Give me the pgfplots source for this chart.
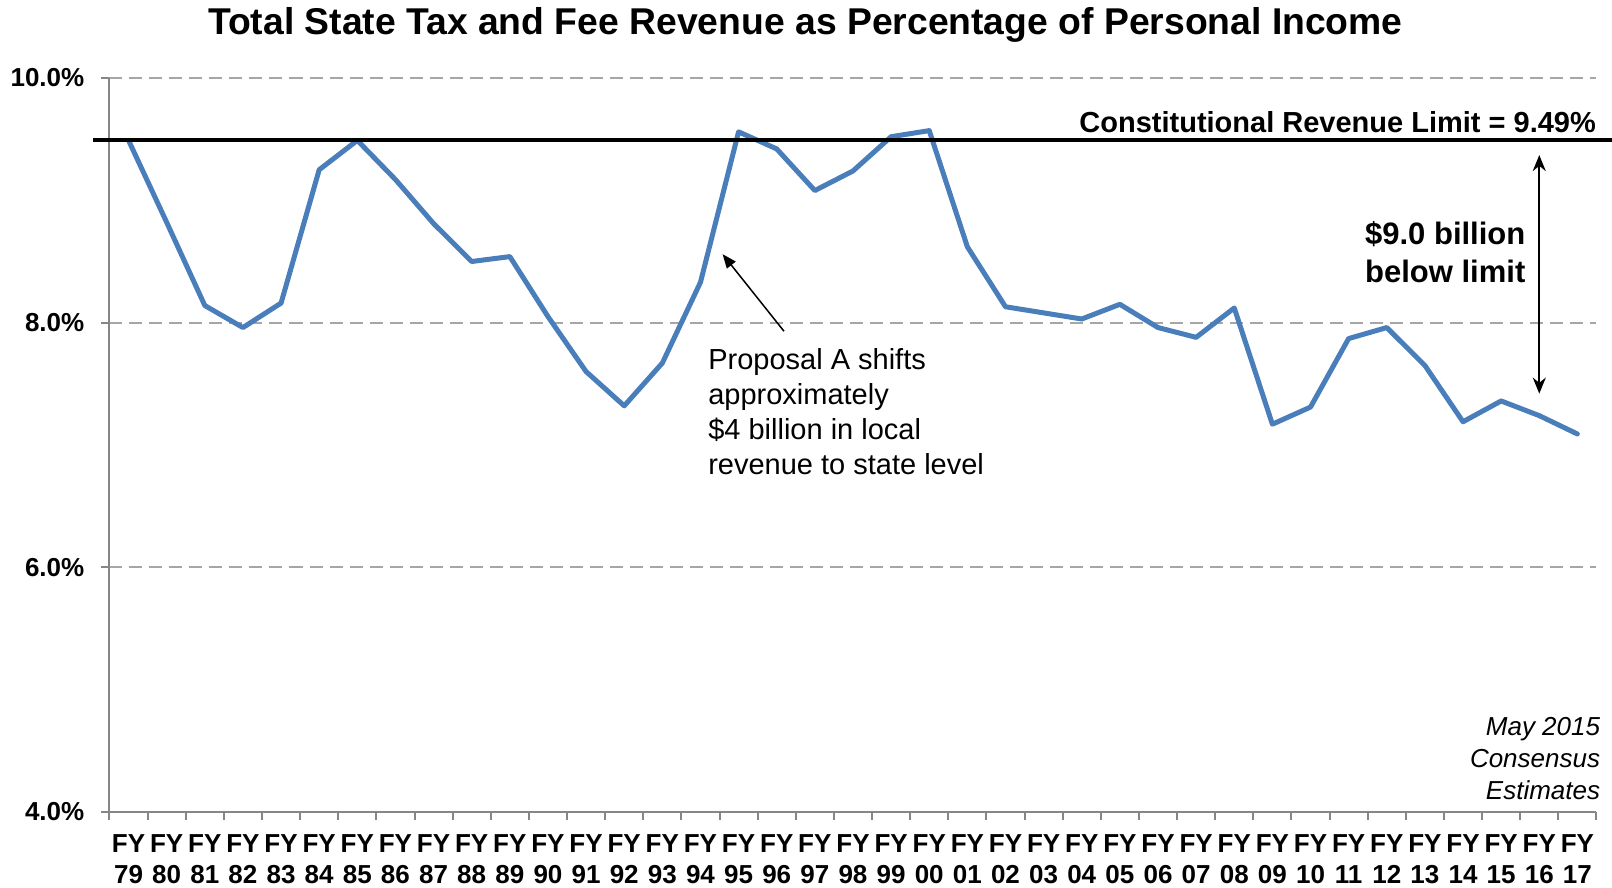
\documentclass[border=0pt]{standalone}
\usepackage{fontspec}
\setmainfont{Liberation Sans}
\usepackage{pgfplots}
\usepackage{pgfplotstable}
\pgfplotsset{compat=1.18}
\usetikzlibrary{arrows.meta}
\definecolor{lineblue}{HTML}{4A7EBB}
\definecolor{gridgray}{HTML}{A6A6A6}
\definecolor{axisgray}{HTML}{868686}

\pgfplotstableread{
x y
0 9.49
1 8.82
2 8.14
3 7.96
4 8.16
5 9.25
6 9.49
7 9.17
8 8.81
9 8.50
10 8.54
11 8.05
12 7.60
13 7.32
14 7.67
15 8.33
16 9.56
17 9.42
18 9.08
19 9.24
20 9.52
21 9.57
22 8.62
23 8.13
24 8.08
25 8.03
26 8.15
27 7.96
28 7.88
29 8.12
30 7.17
31 7.31
32 7.87
33 7.96
34 7.65
35 7.19
36 7.36
37 7.24
38 7.09
}\datatable

\begin{document}
\begin{tikzpicture}
\path[use as bounding box] (-109.5pt,-75pt) rectangle (1502.5pt,812pt);
\begin{axis}[
  at={(0pt,0pt)}, anchor=south west,
  width=1487pt, height=734pt, scale only axis,
  xmin=-0.5, xmax=38.5, ymin=4, ymax=10,
  clip=false,
  axis x line*=bottom, axis y line*=left,
  axis line style={axisgray, line width=2pt},
  xtick={-0.5,0.5,...,38.5}, xticklabels={},
  extra x ticks={0,1,...,38},
  extra x tick labels={FY\\79,FY\\80,FY\\81,FY\\82,FY\\83,FY\\84,FY\\85,FY\\86,FY\\87,FY\\88,FY\\89,FY\\90,FY\\91,FY\\92,FY\\93,FY\\94,FY\\95,FY\\96,FY\\97,FY\\98,FY\\99,FY\\00,FY\\01,FY\\02,FY\\03,FY\\04,FY\\05,FY\\06,FY\\07,FY\\08,FY\\09,FY\\10,FY\\11,FY\\12,FY\\13,FY\\14,FY\\15,FY\\16,FY\\17},
  extra x tick style={major tick length=0pt},
  xticklabel style={font=\fontsize{26}{31}\selectfont\bfseries, align=center, inner sep=0pt, yshift=-22pt},
  ytick={4,6,8,10}, yticklabels={4.0\%,6.0\%,8.0\%,10.0\%},
  yticklabel style={font=\fontsize{26}{26}\selectfont\bfseries, inner sep=0pt, xshift=-17pt},
  ymajorgrids,
  grid style={gridgray, line width=2pt, dash pattern=on 13pt off 7pt},
  major tick length=8pt, tick align=outside,
  tick style={axisgray, line width=2pt},
]
\addplot[lineblue, line width=5pt, line join=round, line cap=round] table[x=x,y=y] {\datatable};
\draw[black, line width=4pt] (axis cs:-0.93,9.49) -- (axis cs:38.95,9.49);
\node[anchor=east, inner sep=0pt, font=\fontsize{29}{29}\selectfont\bfseries] at (axis cs:38.49,9.64) {Constitutional Revenue Limit = 9.49\%};
\draw[{Stealth[length=16pt,width=13pt]}-{Stealth[length=16pt,width=13pt]}, line width=2pt] (axis cs:37.0,9.37) -- (axis cs:37.0,7.42);
\node[anchor=east, align=center, inner sep=0pt, font=\fontsize{31}{38}\selectfont\bfseries] at (axis cs:36.64,8.575) {\$9.0 billion\\below limit};
\draw[-{Triangle[length=14pt,width=11pt]}, line width=1.5pt] (axis cs:17.19,7.93) -- (axis cs:15.58,8.56);
\node[anchor=west, align=left, inner sep=0pt, font=\fontsize{29}{35}\selectfont] at (axis cs:15.2,7.27) {Proposal A shifts\\approximately\\\$4 billion in local\\revenue to state level};
\node[anchor=east, align=right, inner sep=0pt, font=\fontsize{26}{32}\selectfont\itshape] at (axis cs:38.6,4.44) {May 2015\\Consensus\\Estimates};
\node[font=\fontsize{37.3}{37.3}\selectfont\bfseries, inner sep=0pt] at (rel axis cs:0.468,1) [yshift=53pt] {Total State Tax and Fee Revenue as Percentage of Personal Income};
\end{axis}
\end{tikzpicture}
\end{document}
